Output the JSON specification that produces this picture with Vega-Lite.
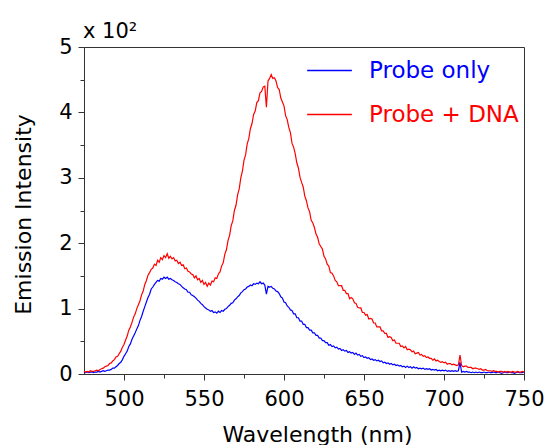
{
"$schema": "https://vega.github.io/schema/vega-lite/v6.json",
"width": 440, "height": 327,
"autosize": "none",
"padding": {"left": 84, "top": 47, "right": 23, "bottom": 71},
"background": "white",
"title": {"text": "x 10²", "anchor": "start", "frame": "group", "fontSize": 21, "fontWeight": "normal", "font": "DejaVu Sans", "baseline": "alphabetic", "offset": 11, "dx": -1, "dy": 34, "color": "black"},
"data": {"values": [
{"w":475,"b":0.03,"r":0.04},{"w":476,"b":0.02,"r":0.03},{"w":477,"b":0.03,"r":0.04},{"w":478,"b":0.02,"r":0.03},{"w":479,"b":0.03,"r":0.05},
{"w":480,"b":0.03,"r":0.04},{"w":481,"b":0.02,"r":0.04},{"w":482,"b":0.03,"r":0.05},{"w":483,"b":0.03,"r":0.06},{"w":484,"b":0.04,"r":0.05},
{"w":485,"b":0.03,"r":0.07},{"w":486,"b":0.04,"r":0.08},{"w":487,"b":0.05,"r":0.09},{"w":488,"b":0.04,"r":0.11},{"w":489,"b":0.05,"r":0.12},
{"w":490,"b":0.06,"r":0.13},{"w":491,"b":0.06,"r":0.16},{"w":492,"b":0.07,"r":0.17},{"w":493,"b":0.09,"r":0.2},{"w":494,"b":0.09,"r":0.22},
{"w":495,"b":0.11,"r":0.26},{"w":496,"b":0.13,"r":0.27},{"w":497,"b":0.16,"r":0.31},{"w":498,"b":0.18,"r":0.35},{"w":499,"b":0.22,"r":0.41},
{"w":500,"b":0.27,"r":0.45},{"w":501,"b":0.31,"r":0.52},{"w":502,"b":0.35,"r":0.58},{"w":503,"b":0.42,"r":0.67},{"w":504,"b":0.46,"r":0.72},
{"w":505,"b":0.53,"r":0.79},{"w":506,"b":0.58,"r":0.87},{"w":507,"b":0.63,"r":0.92},{"w":508,"b":0.69,"r":1.0},{"w":509,"b":0.74,"r":1.06},
{"w":510,"b":0.82,"r":1.12},{"w":511,"b":0.88,"r":1.21},{"w":512,"b":0.96,"r":1.27},{"w":513,"b":1.03,"r":1.37},{"w":514,"b":1.1,"r":1.43},
{"w":515,"b":1.17,"r":1.51},{"w":516,"b":1.22,"r":1.55},{"w":517,"b":1.3,"r":1.6},{"w":518,"b":1.33,"r":1.62},{"w":519,"b":1.37,"r":1.68},
{"w":520,"b":1.4,"r":1.66},{"w":521,"b":1.43,"r":1.74},{"w":522,"b":1.42,"r":1.71},{"w":523,"b":1.46,"r":1.78},{"w":524,"b":1.45,"r":1.75},
{"w":525,"b":1.48,"r":1.81},{"w":526,"b":1.46,"r":1.78},{"w":527,"b":1.48,"r":1.84},{"w":528,"b":1.45,"r":1.77},{"w":529,"b":1.46,"r":1.8},
{"w":530,"b":1.44,"r":1.76},{"w":531,"b":1.43,"r":1.78},{"w":532,"b":1.41,"r":1.73},{"w":533,"b":1.4,"r":1.74},{"w":534,"b":1.38,"r":1.69},
{"w":535,"b":1.37,"r":1.71},{"w":536,"b":1.34,"r":1.66},{"w":537,"b":1.32,"r":1.67},{"w":538,"b":1.3,"r":1.61},{"w":539,"b":1.29,"r":1.62},
{"w":540,"b":1.25,"r":1.57},{"w":541,"b":1.25,"r":1.56},{"w":542,"b":1.21,"r":1.53},{"w":543,"b":1.2,"r":1.52},{"w":544,"b":1.18,"r":1.47},
{"w":545,"b":1.16,"r":1.5},{"w":546,"b":1.13,"r":1.44},{"w":547,"b":1.11,"r":1.46},{"w":548,"b":1.08,"r":1.4},{"w":549,"b":1.06,"r":1.43},
{"w":550,"b":1.03,"r":1.37},{"w":551,"b":1.01,"r":1.4},{"w":552,"b":0.99,"r":1.34},{"w":553,"b":0.98,"r":1.39},{"w":554,"b":0.96,"r":1.36},
{"w":555,"b":0.97,"r":1.42},{"w":556,"b":0.94,"r":1.41},{"w":557,"b":0.95,"r":1.47},{"w":558,"b":0.93,"r":1.46},{"w":559,"b":0.96,"r":1.53},
{"w":560,"b":0.94,"r":1.56},{"w":561,"b":0.97,"r":1.65},{"w":562,"b":0.96,"r":1.7},{"w":563,"b":0.99,"r":1.83},{"w":564,"b":1.0,"r":1.9},
{"w":565,"b":1.03,"r":2.04},{"w":566,"b":1.05,"r":2.12},{"w":567,"b":1.08,"r":2.27},{"w":568,"b":1.09,"r":2.34},{"w":569,"b":1.13,"r":2.5},
{"w":570,"b":1.15,"r":2.58},{"w":571,"b":1.18,"r":2.74},{"w":572,"b":1.2,"r":2.83},{"w":573,"b":1.24,"r":3.0},{"w":574,"b":1.26,"r":3.1},
{"w":575,"b":1.29,"r":3.27},{"w":576,"b":1.3,"r":3.35},{"w":577,"b":1.33,"r":3.52},{"w":578,"b":1.34,"r":3.6},{"w":579,"b":1.36,"r":3.75},
{"w":580,"b":1.35,"r":3.83},{"w":581,"b":1.38,"r":3.97},{"w":582,"b":1.37,"r":4.02},{"w":583,"b":1.39,"r":4.15},{"w":584,"b":1.38,"r":4.18},
{"w":585,"b":1.41,"r":4.3},{"w":586,"b":1.38,"r":4.32},{"w":587,"b":1.39,"r":4.39},{"w":588,"b":1.36,"r":4.4},{"w":589,"b":1.22,"r":4.08},
{"w":590,"b":1.34,"r":4.48},{"w":591,"b":1.33,"r":4.52},{"w":592,"b":1.34,"r":4.58},{"w":593,"b":1.31,"r":4.52},{"w":594,"b":1.3,"r":4.53},
{"w":595,"b":1.27,"r":4.48},{"w":596,"b":1.26,"r":4.38},{"w":597,"b":1.23,"r":4.35},{"w":598,"b":1.18,"r":4.22},{"w":599,"b":1.16,"r":4.16},
{"w":600,"b":1.1,"r":4.1},{"w":601,"b":1.09,"r":3.95},{"w":602,"b":1.04,"r":3.89},{"w":603,"b":1.02,"r":3.77},{"w":604,"b":0.98,"r":3.69},
{"w":605,"b":0.97,"r":3.53},{"w":606,"b":0.92,"r":3.47},{"w":607,"b":0.92,"r":3.37},{"w":608,"b":0.86,"r":3.23},{"w":609,"b":0.86,"r":3.15},
{"w":610,"b":0.81,"r":3.01},{"w":611,"b":0.81,"r":2.93},{"w":612,"b":0.76,"r":2.86},{"w":613,"b":0.76,"r":2.72},{"w":614,"b":0.71,"r":2.65},
{"w":615,"b":0.71,"r":2.54},{"w":616,"b":0.67,"r":2.48},{"w":617,"b":0.67,"r":2.35},{"w":618,"b":0.63,"r":2.31},{"w":619,"b":0.63,"r":2.24},
{"w":620,"b":0.59,"r":2.14},{"w":621,"b":0.59,"r":2.09},{"w":622,"b":0.55,"r":1.99},{"w":623,"b":0.55,"r":1.95},{"w":624,"b":0.51,"r":1.91},
{"w":625,"b":0.51,"r":1.8},{"w":626,"b":0.48,"r":1.76},{"w":627,"b":0.48,"r":1.68},{"w":628,"b":0.44,"r":1.65},{"w":629,"b":0.45,"r":1.55},
{"w":630,"b":0.42,"r":1.54},{"w":631,"b":0.43,"r":1.5},{"w":632,"b":0.4,"r":1.43},{"w":633,"b":0.41,"r":1.41},{"w":634,"b":0.38,"r":1.35},
{"w":635,"b":0.39,"r":1.35},{"w":636,"b":0.36,"r":1.35},{"w":637,"b":0.37,"r":1.28},{"w":638,"b":0.35,"r":1.28},{"w":639,"b":0.36,"r":1.23},
{"w":640,"b":0.33,"r":1.23},{"w":641,"b":0.34,"r":1.15},{"w":642,"b":0.32,"r":1.17},{"w":643,"b":0.33,"r":1.15},{"w":644,"b":0.3,"r":1.09},
{"w":645,"b":0.32,"r":1.08},{"w":646,"b":0.29,"r":1.02},{"w":647,"b":0.3,"r":1.01},{"w":648,"b":0.27,"r":1.01},{"w":649,"b":0.28,"r":0.94},
{"w":650,"b":0.25,"r":0.94},{"w":651,"b":0.26,"r":0.9},{"w":652,"b":0.24,"r":0.91},{"w":653,"b":0.25,"r":0.84},{"w":654,"b":0.22,"r":0.85},
{"w":655,"b":0.23,"r":0.84},{"w":656,"b":0.21,"r":0.78},{"w":657,"b":0.22,"r":0.78},{"w":658,"b":0.2,"r":0.72},{"w":659,"b":0.21,"r":0.72},
{"w":660,"b":0.19,"r":0.72},{"w":661,"b":0.2,"r":0.66},{"w":662,"b":0.17,"r":0.66},{"w":663,"b":0.18,"r":0.62},{"w":664,"b":0.16,"r":0.62},
{"w":665,"b":0.17,"r":0.56},{"w":666,"b":0.15,"r":0.57},{"w":667,"b":0.16,"r":0.56},{"w":668,"b":0.14,"r":0.51},{"w":669,"b":0.15,"r":0.52},
{"w":670,"b":0.13,"r":0.47},{"w":671,"b":0.14,"r":0.47},{"w":672,"b":0.12,"r":0.47},{"w":673,"b":0.13,"r":0.42},{"w":674,"b":0.11,"r":0.43},
{"w":675,"b":0.12,"r":0.4},{"w":676,"b":0.1,"r":0.42},{"w":677,"b":0.12,"r":0.37},{"w":678,"b":0.1,"r":0.38},{"w":679,"b":0.11,"r":0.37},
{"w":680,"b":0.09,"r":0.34},{"w":681,"b":0.11,"r":0.35},{"w":682,"b":0.09,"r":0.31},{"w":683,"b":0.1,"r":0.32},{"w":684,"b":0.08,"r":0.33},
{"w":685,"b":0.09,"r":0.29},{"w":686,"b":0.08,"r":0.3},{"w":687,"b":0.09,"r":0.27},{"w":688,"b":0.07,"r":0.28},{"w":689,"b":0.08,"r":0.25},
{"w":690,"b":0.07,"r":0.26},{"w":691,"b":0.08,"r":0.24},{"w":692,"b":0.06,"r":0.24},{"w":693,"b":0.07,"r":0.21},{"w":694,"b":0.06,"r":0.23},
{"w":695,"b":0.07,"r":0.2},{"w":696,"b":0.05,"r":0.21},{"w":697,"b":0.06,"r":0.19},{"w":698,"b":0.05,"r":0.18},{"w":699,"b":0.06,"r":0.19},
{"w":700,"b":0.05,"r":0.17},{"w":701,"b":0.06,"r":0.18},{"w":702,"b":0.04,"r":0.15},{"w":703,"b":0.05,"r":0.16},{"w":704,"b":0.04,"r":0.16},
{"w":705,"b":0.05,"r":0.14},{"w":706,"b":0.04,"r":0.15},{"w":707,"b":0.05,"r":0.14},{"w":708,"b":0.04,"r":0.13},{"w":709,"b":0.05,"r":0.14},
{"w":710,"b":0.18,"r":0.29},{"w":711,"b":0.03,"r":0.13},{"w":712,"b":0.04,"r":0.11},{"w":713,"b":0.03,"r":0.12},{"w":714,"b":0.04,"r":0.12},
{"w":715,"b":0.03,"r":0.1},{"w":716,"b":0.03,"r":0.1},{"w":717,"b":0.02,"r":0.1},{"w":718,"b":0.03,"r":0.08},{"w":719,"b":0.02,"r":0.09},
{"w":720,"b":0.03,"r":0.09},{"w":721,"b":0.02,"r":0.08},{"w":722,"b":0.03,"r":0.07},{"w":723,"b":0.02,"r":0.08},{"w":724,"b":0.02,"r":0.06},
{"w":725,"b":0.03,"r":0.06},{"w":726,"b":0.02,"r":0.07},{"w":727,"b":0.02,"r":0.05},{"w":728,"b":0.03,"r":0.05},{"w":729,"b":0.02,"r":0.05},
{"w":730,"b":0.02,"r":0.04},{"w":731,"b":0.03,"r":0.05},{"w":732,"b":0.02,"r":0.04},{"w":733,"b":0.02,"r":0.04},{"w":734,"b":0.03,"r":0.03},
{"w":735,"b":0.02,"r":0.04},{"w":736,"b":0.01,"r":0.04},{"w":737,"b":0.02,"r":0.03},{"w":738,"b":0.03,"r":0.04},{"w":739,"b":0.02,"r":0.03},
{"w":740,"b":0.02,"r":0.04},{"w":741,"b":0.03,"r":0.03},{"w":742,"b":0.02,"r":0.03},{"w":743,"b":0.02,"r":0.04},{"w":744,"b":0.01,"r":0.03},
{"w":745,"b":0.02,"r":0.03},{"w":746,"b":0.03,"r":0.04},{"w":747,"b":0.02,"r":0.03},{"w":748,"b":0.02,"r":0.03},{"w":749,"b":0.02,"r":0.04},
{"w":750,"b":0.03,"r":0.03}
]},
"transform": [{"fold": ["b", "r"], "as": ["series", "value"]}],
"mark": {"type": "line", "strokeWidth": 1.2, "interpolate": "linear"},
"encoding": {
  "x": {"field": "w", "type": "quantitative",
        "scale": {"domain": [475, 750], "nice": false, "zero": false},
        "axis": {"values": [500,525,550,575,600,625,650,675,700,725,750],
                 "labelExpr": "datum.value % 50 === 0 ? datum.label : ''",
                 "tickSize": {"condition": {"test": "datum.value % 50 === 0", "value": 6}, "value": 4},
                 "grid": false, "labelFont": "DejaVu Sans", "labelFontSize": 21, "labelPadding": 8,
                 "labelColor": "black", "labelFlush": false, "labelOverlap": false,
                 "title": "Wavelength (nm)", "titleFont": "DejaVu Sans", "titleFontSize": 22, "titleFontWeight": "normal",
                 "titleColor": "black", "titleX": 233, "titleY": 67, "titleAlign": "center", "titleBaseline": "alphabetic"}},
  "y": {"field": "value", "type": "quantitative",
        "scale": {"domain": [0, 5], "nice": false},
        "axis": {"values": [0,0.5,1,1.5,2,2.5,3,3.5,4,4.5,5],
                 "labelExpr": "datum.value % 1 === 0 ? format(datum.value, 'd') : ''",
                 "tickSize": {"condition": {"test": "datum.value % 1 === 0", "value": 6}, "value": 4},
                 "grid": false, "labelFont": "DejaVu Sans", "labelFontSize": 21, "labelPadding": 6,
                 "labelColor": "black", "labelFlush": false, "labelOverlap": false,
                 "title": "Emission Intensity", "titleFont": "DejaVu Sans", "titleFontSize": 22, "titleFontWeight": "normal",
                 "titleColor": "black", "titleX": -54, "titleY": 167, "titleAngle": -90, "titleAlign": "center", "titleBaseline": "alphabetic"}},
  "color": {"field": "series", "type": "nominal",
            "scale": {"domain": ["b", "r"], "range": ["#0000ff", "#ff0000"]},
            "legend": {"orient": "none", "legendX": 222, "legendY": 0, "title": null,
                       "symbolType": "stroke", "symbolSize": 2000, "symbolStrokeWidth": 1.5,
                       "labelFont": "DejaVu Sans", "labelFontSize": 23, "labelOffset": 16, "labelLimit": 300,
                       "labelColor": {"expr": "datum.value === 'b' ? '#0000ff' : '#ff0000'"},
                       "labelExpr": "datum.value === 'b' ? 'Probe only' : 'Probe + DNA'",
                       "rowPadding": 8, "padding": 0}}
},
"config": {
  "view": {"stroke": "#333333", "strokeWidth": 1},
  "axis": {"domainColor": "#333333", "tickColor": "#333333", "domainWidth": 1, "tickWidth": 1}
}
}
